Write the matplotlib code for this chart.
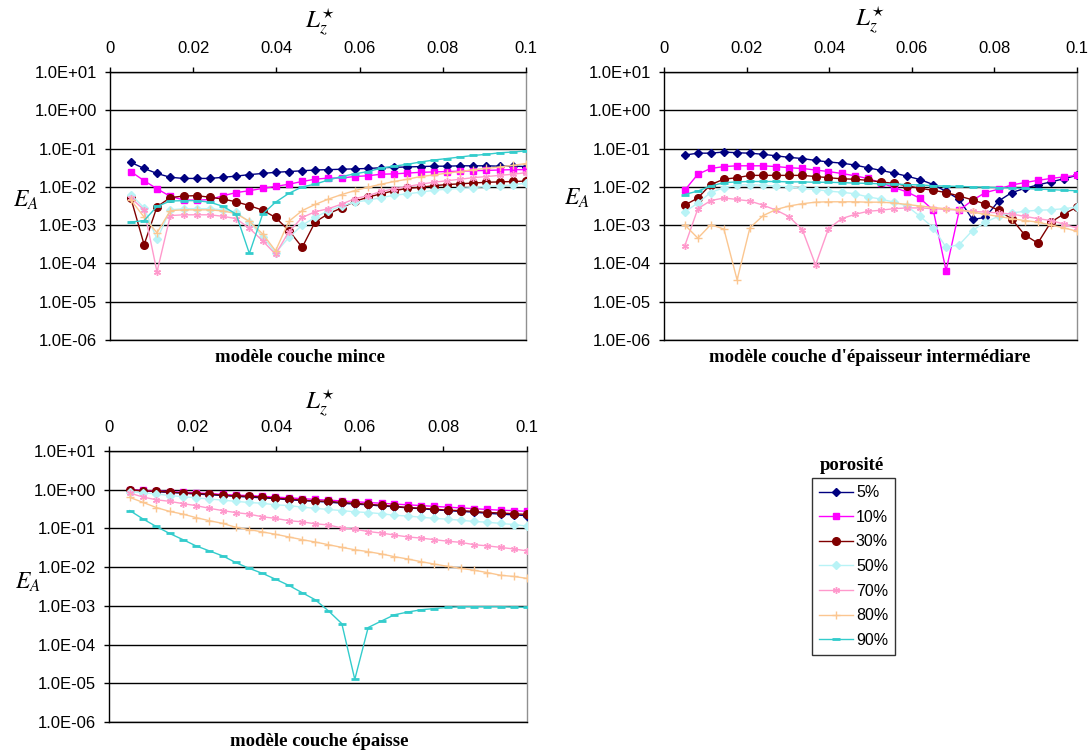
import numpy as np
import matplotlib
matplotlib.use("Agg")
import matplotlib.pyplot as plt
from matplotlib.ticker import NullLocator, FuncFormatter

plt.rcParams['font.family'] = ['Liberation Sans', 'DejaVu Sans']
plt.rcParams['mathtext.fontset'] = 'stix'

# L*z grid (31 points)
lz = [0.005, 0.0082, 0.0113, 0.0145, 0.0177, 0.0208, 0.024, 0.0272, 0.0303, 0.0335,
      0.0367, 0.0398, 0.043, 0.0462, 0.0493, 0.0525, 0.0557, 0.0588, 0.062, 0.0652,
      0.0683, 0.0715, 0.0747, 0.0778, 0.081, 0.0842, 0.0873, 0.0905, 0.0937, 0.0968, 0.1]

porosites = ['5%', '10%', '30%', '50%', '70%', '80%', '90%']

# log10(E_A), panel "couche mince"
mince_05 = [-1.36, -1.52, -1.65, -1.75, -1.78, -1.78, -1.78, -1.75, -1.72, -1.68, -1.65, -1.62, -1.6, -1.58, -1.56, -1.55,
            -1.54, -1.53, -1.52, -1.5, -1.49, -1.48, -1.47, -1.46, -1.46, -1.45, -1.45, -1.45, -1.46, -1.46, -1.47]
mince_10 = [-1.6, -1.84, -2.05, -2.25, -2.34, -2.35, -2.33, -2.23, -2.15, -2.1, -2.04, -1.99, -1.93, -1.86, -1.8, -1.77,
            -1.77, -1.73, -1.71, -1.67, -1.66, -1.64, -1.62, -1.61, -1.6, -1.59, -1.58, -1.57, -1.56, -1.55, -1.55]
mince_30 = [-2.29, -3.51, -2.52, -2.28, -2.24, -2.23, -2.27, -2.32, -2.39, -2.49, -2.61, -2.8, -3.14, -3.58, -2.92, -2.7,
            -2.55, -2.38, -2.27, -2.18, -2.1, -2.04, -2.01, -1.97, -1.94, -1.92, -1.9, -1.88, -1.87, -1.86, -1.85]
mince_50 = [-2.2, -2.55, -3.37, -2.6, -2.57, -2.57, -2.57, -2.6, -2.66, -2.92, -3.3, -3.72, -3.32, -3.0, -2.8, -2.62,
            -2.5, -2.4, -2.35, -2.28, -2.22, -2.18, -2.14, -2.09, -2.06, -2.04, -2.02, -1.99, -1.97, -1.95, -1.9]
mince_70 = [-2.29, -2.6, -4.22, -2.75, -2.73, -2.73, -2.73, -2.77, -2.83, -3.08, -3.41, -3.76, -3.17, -2.8, -2.65, -2.57,
            -2.45, -2.31, -2.23, -2.12, -2.05, -1.99, -1.93, -1.88, -1.84, -1.8, -1.76, -1.73, -1.7, -1.67, -1.63]
mince_80 = [-2.34, -2.79, -3.2, -2.62, -2.6, -2.6, -2.6, -2.63, -2.7, -2.9, -3.23, -3.67, -2.9, -2.62, -2.46, -2.32,
            -2.2, -2.1, -2.01, -1.93, -1.86, -1.8, -1.73, -1.69, -1.64, -1.6, -1.55, -1.52, -1.48, -1.44, -1.39]
mince_90 = [-2.92, -2.88, -2.51, -2.37, -2.36, -2.36, -2.4, -2.51, -2.71, -3.74, -2.71, -2.4, -2.17, -2.0, -1.93, -1.82,
            -1.73, -1.66, -1.6, -1.51, -1.46, -1.41, -1.35, -1.3, -1.26, -1.22, -1.18, -1.15, -1.11, -1.09, -1.06]

# panel "couche d'épaisseur intermédiaire"
inter_05 = [-1.17, -1.12, -1.12, -1.09, -1.11, -1.12, -1.15, -1.19, -1.23, -1.26, -1.31, -1.35, -1.38, -1.43, -1.5, -1.57,
            -1.64, -1.72, -1.81, -1.94, -2.12, -2.33, -2.85, -2.8, -2.37, -2.15, -2.04, -1.95, -1.87, -1.79, -1.7]
inter_10 = [-2.09, -1.67, -1.52, -1.47, -1.45, -1.45, -1.45, -1.47, -1.5, -1.52, -1.56, -1.6, -1.65, -1.71, -1.78, -1.89,
            -2.02, -2.13, -2.3, -2.61, -4.19, -2.61, -2.35, -2.15, -2.06, -1.95, -1.89, -1.83, -1.78, -1.74, -1.7]
inter_30 = [-2.48, -2.29, -1.94, -1.8, -1.76, -1.7, -1.7, -1.7, -1.7, -1.7, -1.73, -1.76, -1.79, -1.8, -1.83, -1.87,
            -1.91, -1.97, -2.04, -2.09, -2.15, -2.24, -2.34, -2.45, -2.61, -2.84, -3.25, -3.47, -2.92, -2.71, -2.53]
inter_50 = [-2.66, -2.42, -2.15, -2.02, -1.96, -1.94, -1.96, -1.98, -2.0, -2.04, -2.07, -2.11, -2.14, -2.18, -2.26, -2.32,
            -2.4, -2.5, -2.77, -3.07, -3.58, -3.51, -3.14, -2.92, -2.77, -2.68, -2.64, -2.61, -2.6, -2.57, -2.53]
inter_70 = [-3.55, -2.57, -2.36, -2.29, -2.33, -2.37, -2.48, -2.61, -2.78, -3.12, -4.04, -3.1, -2.83, -2.72, -2.64, -2.61,
            -2.57, -2.55, -2.55, -2.57, -2.59, -2.61, -2.64, -2.66, -2.68, -2.71, -2.77, -2.83, -2.88, -2.97, -3.08]
inter_80 = [-2.99, -3.34, -2.99, -3.1, -4.43, -3.07, -2.75, -2.59, -2.5, -2.44, -2.4, -2.39, -2.39, -2.39, -2.4, -2.4,
            -2.42, -2.46, -2.5, -2.54, -2.57, -2.6, -2.66, -2.72, -2.77, -2.83, -2.88, -2.92, -3.0, -3.07, -3.16]
inter_90 = [-2.2, -2.11, -1.98, -1.89, -1.87, -1.86, -1.86, -1.86, -1.87, -1.87, -1.88, -1.88, -1.89, -1.9, -1.91, -1.92,
            -1.93, -1.94, -1.95, -1.97, -1.98, -1.99, -2.0, -2.01, -2.02, -2.03, -2.04, -2.06, -2.07, -2.09, -2.1]

# panel "couche épaisse"
epais_05 = [0.0, -0.03, -0.05, -0.07, -0.09, -0.11, -0.13, -0.15, -0.17, -0.19, -0.21, -0.23, -0.26, -0.28, -0.3, -0.32,
            -0.35, -0.37, -0.39, -0.42, -0.44, -0.47, -0.49, -0.52, -0.54, -0.56, -0.58, -0.61, -0.63, -0.65, -0.67]
epais_10 = [0.0, -0.02, -0.03, -0.05, -0.07, -0.08, -0.1, -0.12, -0.14, -0.15, -0.17, -0.19, -0.21, -0.23, -0.25, -0.27,
            -0.29, -0.31, -0.33, -0.35, -0.37, -0.39, -0.41, -0.43, -0.45, -0.47, -0.49, -0.51, -0.53, -0.54, -0.56]
epais_30 = [0.0, -0.03, -0.04, -0.06, -0.08, -0.1, -0.11, -0.14, -0.16, -0.17, -0.19, -0.22, -0.24, -0.27, -0.29, -0.3,
            -0.33, -0.35, -0.38, -0.4, -0.43, -0.46, -0.48, -0.5, -0.53, -0.54, -0.56, -0.59, -0.6, -0.62, -0.64]
epais_50 = [-0.05, -0.08, -0.11, -0.15, -0.18, -0.21, -0.24, -0.27, -0.3, -0.33, -0.35, -0.39, -0.41, -0.45, -0.48, -0.51,
            -0.54, -0.57, -0.59, -0.62, -0.66, -0.68, -0.71, -0.74, -0.76, -0.79, -0.82, -0.84, -0.87, -0.9, -0.94]
epais_70 = [-0.09, -0.19, -0.26, -0.3, -0.36, -0.41, -0.48, -0.54, -0.59, -0.63, -0.7, -0.74, -0.8, -0.83, -0.88, -0.91,
            -0.99, -1.02, -1.08, -1.12, -1.17, -1.22, -1.25, -1.29, -1.33, -1.36, -1.42, -1.45, -1.49, -1.53, -1.58]
epais_80 = [-0.2, -0.33, -0.46, -0.56, -0.63, -0.72, -0.8, -0.87, -0.97, -1.03, -1.09, -1.15, -1.22, -1.29, -1.35, -1.42,
            -1.49, -1.55, -1.6, -1.66, -1.73, -1.79, -1.86, -1.92, -1.98, -2.03, -2.08, -2.14, -2.21, -2.24, -2.29]
epais_90 = [-0.54, -0.76, -0.95, -1.13, -1.29, -1.45, -1.58, -1.71, -1.88, -2.03, -2.16, -2.31, -2.47, -2.66, -2.84, -3.13,
            -3.46, -4.9, -3.56, -3.39, -3.23, -3.16, -3.1, -3.07, -3.04, -3.02, -3.02, -3.02, -3.02, -3.03, -3.04]

styles = [
    dict(color='#000080', marker='D', ms=4.5),
    dict(color='#FF00FF', marker='s', ms=5),
    dict(color='#800000', marker='o', ms=5.5),
    dict(color='#B8F3F6', marker='D', ms=4.5),
    dict(color='#FF99CC', marker=(6, 2, 0), ms=5, mew=1),
    dict(color='#FBC690', marker='+', ms=6, mew=1),
    dict(color='#33CCCC', marker='_', ms=6, mew=2),
]

W, H = 1090, 755
fig = plt.figure(figsize=(W / 100, H / 100), dpi=100)


def make_axes(l, r, t, b):
    return fig.add_axes([l / W, 1 - b / H, (r - l) / W, (b - t) / H])


def draw_panel(ax, series, title, title_x, title_y, lab_x, lab_y, ea_x, ea_y):
    for vals, st, lab in zip(series, styles, porosites):
        ax.plot(lz, 10 ** np.array(vals), lw=1.0, label=lab, zorder=3, **st)
    ax.set_yscale('log')
    ax.set_ylim(1e-6, 1e1)
    ax.set_xlim(0, 0.1)
    ax.set_yticks([10.0 ** e for e in range(-6, 2)])
    ax.yaxis.set_minor_locator(NullLocator())
    ax.yaxis.set_major_formatter(FuncFormatter(lambda v, p: '%.1E' % v))
    ax.xaxis.tick_top()
    ax.set_xticks([0, 0.02, 0.04, 0.06, 0.08, 0.1])
    ax.set_xticklabels(['0', '0.02', '0.04', '0.06', '0.08', '0.1'])
    ax.tick_params(axis='both', direction='out', length=3.5, width=1, labelsize=12,
                   colors='black')
    ax.tick_params(axis='x', pad=8)
    ax.tick_params(axis='y', pad=6)
    ax.grid(axis='y', color='black', lw=1.0, zorder=1)
    ax.set_axisbelow(True)
    for s in ['top', 'left', 'bottom']:
        ax.spines[s].set_color('black')
        ax.spines[s].set_linewidth(1.0)
    ax.spines['right'].set_color('#909090')
    ax.spines['right'].set_linewidth(1.0)
    fig.text(title_x / W, 1 - title_y / H, title, ha='center', va='center',
             family='Liberation Serif', weight='bold', fontsize=13.5)
    fig.text(lab_x / W, 1 - lab_y / H, r'$L_z^{\star}$', ha='center', va='center', fontsize=18)
    fig.text(ea_x / W, 1 - ea_y / H, r'$E_A$', ha='center', va='center', fontsize=17)


ax1 = make_axes(110, 526, 72, 340)
draw_panel(ax1, [mince_05, mince_10, mince_30, mince_50, mince_70, mince_80, mince_90],
           'modèle couche mince', 300, 358, 320, 22, 26, 200)

ax2 = make_axes(664, 1077, 72, 340)
draw_panel(ax2, [inter_05, inter_10, inter_30, inter_50, inter_70, inter_80, inter_90],
           "modèle couche d'épaisseur intermédiare", 870, 358, 870, 20, 577, 198)

ax3 = make_axes(109, 527, 451, 722)
draw_panel(ax3, [epais_05, epais_10, epais_30, epais_50, epais_70, epais_80, epais_90],
           'modèle couche épaisse', 319, 741, 320, 403, 28, 582)

handles, labels = ax3.get_legend_handles_labels()
leg = fig.legend(handles, labels, loc='upper left', bbox_to_anchor=(812 / W, 1 - 478 / H),
                 frameon=True, fancybox=False, fontsize=11.5, handlelength=2.1,
                 handletextpad=0.2, labelspacing=0.6, borderpad=0.45, borderaxespad=0)
leg.get_frame().set_edgecolor('black')
leg.get_frame().set_linewidth(1.0)
fig.text(852 / W, 1 - 465 / H, 'porosité', ha='center', va='center',
         family='Liberation Serif', weight='bold', fontsize=13.5)

fig.savefig('out.png', dpi=100)
